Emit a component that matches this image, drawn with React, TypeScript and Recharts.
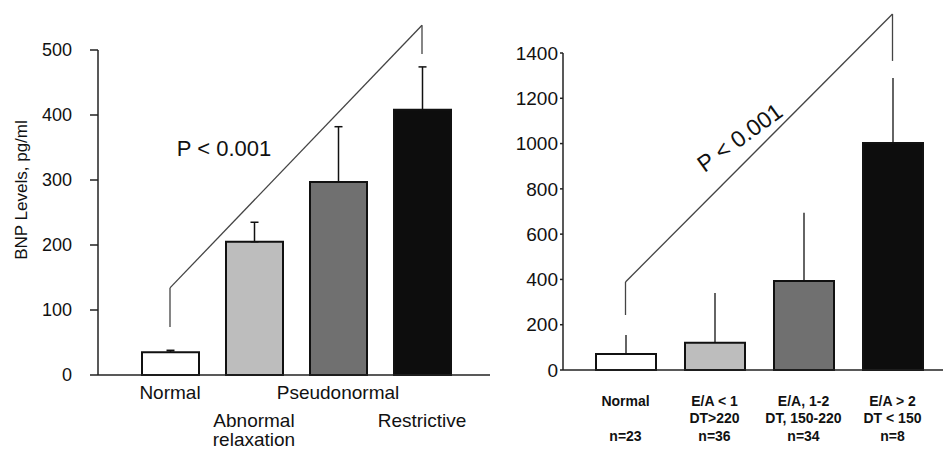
import React from 'react';
import { BarChart, Bar, XAxis, YAxis, ErrorBar, ReferenceLine, Cell } from 'recharts';

const FONT = '"Liberation Sans", Arial, sans-serif';

// left panel: BNP by filling pattern
const leftCategories = ['Normal', 'Abnormal relaxation', 'Pseudonormal', 'Restrictive'];
const leftTickLines = [['Normal'], ['Abnormal', 'relaxation'], ['Pseudonormal'], ['Restrictive']];
const leftValues = [35, 205, 297, 408];
const leftErrors = [3, 30, 85, 66];
const leftTicks = [0, 100, 200, 300, 400, 500];
const leftBracket = [74, 134, 538, 494];

// right panel: BNP by E/A and DT groups
const rightCategories = ['Normal', 'E/A < 1', 'E/A, 1-2', 'E/A > 2'];
const rightSubLabels = ['', 'DT>220', 'DT, 150-220', 'DT < 150'];
const rightCounts = ['n=23', 'n=36', 'n=34', 'n=8'];
const rightValues = [71, 120, 393, 1003];
const rightErrors = [84, 220, 301, 287];
const rightTicks = [0, 200, 400, 600, 800, 1000, 1200, 1400];
const rightBracket = [243, 389, 1572, 1365];

const barColors = ['#ffffff', '#bdbdbd', '#707070', '#0d0d0d'];

const leftData = leftCategories.map((name, i) => ({ name, value: leftValues[i], err: [0, leftErrors[i]] }));
const rightData = rightCategories.map((name, i) => ({ name, value: rightValues[i], err: [0, rightErrors[i]] }));

const LeftTick = (props: any) => {
  const { x, y, index } = props;
  const lines = leftTickLines[index] || [];
  const top = index % 2 === 0 ? 24 : 52;
  return (
    <text x={x} y={y + top} textAnchor="middle" fontSize={19} fontFamily={FONT} fill="#111">
      {lines.map((t, k) => (
        <tspan key={k} x={x} dy={k === 0 ? 0 : 19}>
          {t}
        </tspan>
      ))}
    </text>
  );
};

const RightTick = (props: any) => {
  const { x, y, index } = props;
  const rows = [rightCategories[index], rightSubLabels[index], rightCounts[index]];
  return (
    <g>
      {rows.map((t, k) =>
        t ? (
          <text key={k} x={x} y={y + 36 + k * 17 + (k === 2 ? 1 : 0)} textAnchor="middle" fontSize={14} fontWeight="bold" fontFamily={FONT} fill="#111">
            {t}
          </text>
        ) : null
      )}
    </g>
  );
};

const bracketLines = (cats: string[], b: number[]) => {
  const first = cats[0];
  const last = cats[cats.length - 1];
  const segs = [
    [{ x: first, y: b[0] }, { x: first, y: b[1] }],
    [{ x: first, y: b[1] }, { x: last, y: b[2] }],
    [{ x: last, y: b[2] }, { x: last, y: b[3] }],
  ];
  return segs.map((s, i) => (
    <ReferenceLine key={i} segment={s as any} stroke="#444" strokeWidth={1.3} ifOverflow="visible" />
  ));
};

export default function App() {
  return (
    <div style={{ position: 'absolute', left: 0, top: 0, width: 943, height: 452, background: '#fff', fontFamily: FONT }}>
      <div style={{ position: 'absolute', left: 0, top: 0 }}>
        <BarChart width={500} height={452} data={leftData} margin={{ top: 50, right: 10, bottom: 0, left: 0 }}>
          <XAxis
            dataKey="name"
            padding={{ left: 30, right: 26 }}
            tickLine={false}
            tickSize={0}
            tickMargin={0}
            interval={0}
            height={77}
            axisLine={{ stroke: '#222', strokeWidth: 1.5 }}
            tick={<LeftTick />}
          />
          <YAxis
            domain={[0, 500]}
            ticks={leftTicks}
            width={98}
            tickSize={8}
            tickMargin={18}
            axisLine={{ stroke: '#222', strokeWidth: 1.5 }}
            tickLine={{ stroke: '#222', strokeWidth: 1.5 }}
            tick={{ fontSize: 18, fill: '#111', fontFamily: FONT }}
          />
          <Bar dataKey="value" barSize={57} stroke="#111" strokeWidth={2} isAnimationActive={false}>
            {leftData.map((d, i) => (
              <Cell key={d.name} fill={barColors[i]} />
            ))}
            <ErrorBar dataKey="err" width={4} stroke="#111" strokeWidth={1.5} direction="y" />
          </Bar>
          {bracketLines(leftCategories, leftBracket)}
        </BarChart>
      </div>
      <div style={{ position: 'absolute', left: 500, top: 0 }}>
        <BarChart width={443} height={452} data={rightData} margin={{ top: 53, right: 0, bottom: 0, left: 0 }}>
          <XAxis
            dataKey="name"
            padding={{ left: 18, right: 6 }}
            tickLine={false}
            tickSize={0}
            tickMargin={0}
            interval={0}
            height={82}
            axisLine={{ stroke: '#222', strokeWidth: 1.5 }}
            tick={<RightTick />}
          />
          <YAxis
            domain={[0, 1400]}
            ticks={rightTicks}
            width={63}
            tickSize={3}
            tickMargin={2}
            axisLine={{ stroke: '#222', strokeWidth: 1.5 }}
            tickLine={{ stroke: '#222', strokeWidth: 1.5 }}
            tick={{ fontSize: 19, fill: '#111', fontFamily: FONT }}
          />
          <Bar dataKey="value" barSize={60} stroke="#111" strokeWidth={2} isAnimationActive={false}>
            {rightData.map((d, i) => (
              <Cell key={d.name} fill={barColors[i]} />
            ))}
            <ErrorBar dataKey="err" width={0} stroke="#111" strokeWidth={1.3} direction="y" />
          </Bar>
          {bracketLines(rightCategories, rightBracket)}
        </BarChart>
      </div>
      <div
        style={{
          position: 'absolute', left: 22, top: 190, transform: 'translate(-50%, -50%) rotate(-90deg)',
          whiteSpace: 'nowrap', fontSize: 17, color: '#111',
        }}
      >
        BNP Levels, pg/ml
      </div>
      <div
        style={{
          position: 'absolute', left: 224, top: 149, transform: 'translate(-50%, -50%)',
          whiteSpace: 'nowrap', fontSize: 22, color: '#111',
        }}
      >
        P &lt; 0.001
      </div>
      <div
        style={{
          position: 'absolute', left: 740, top: 138, transform: 'translate(-50%, -50%) rotate(-36deg)',
          whiteSpace: 'nowrap', fontSize: 23, color: '#111',
        }}
      >
        P &lt; 0.001
      </div>
    </div>
  );
}
